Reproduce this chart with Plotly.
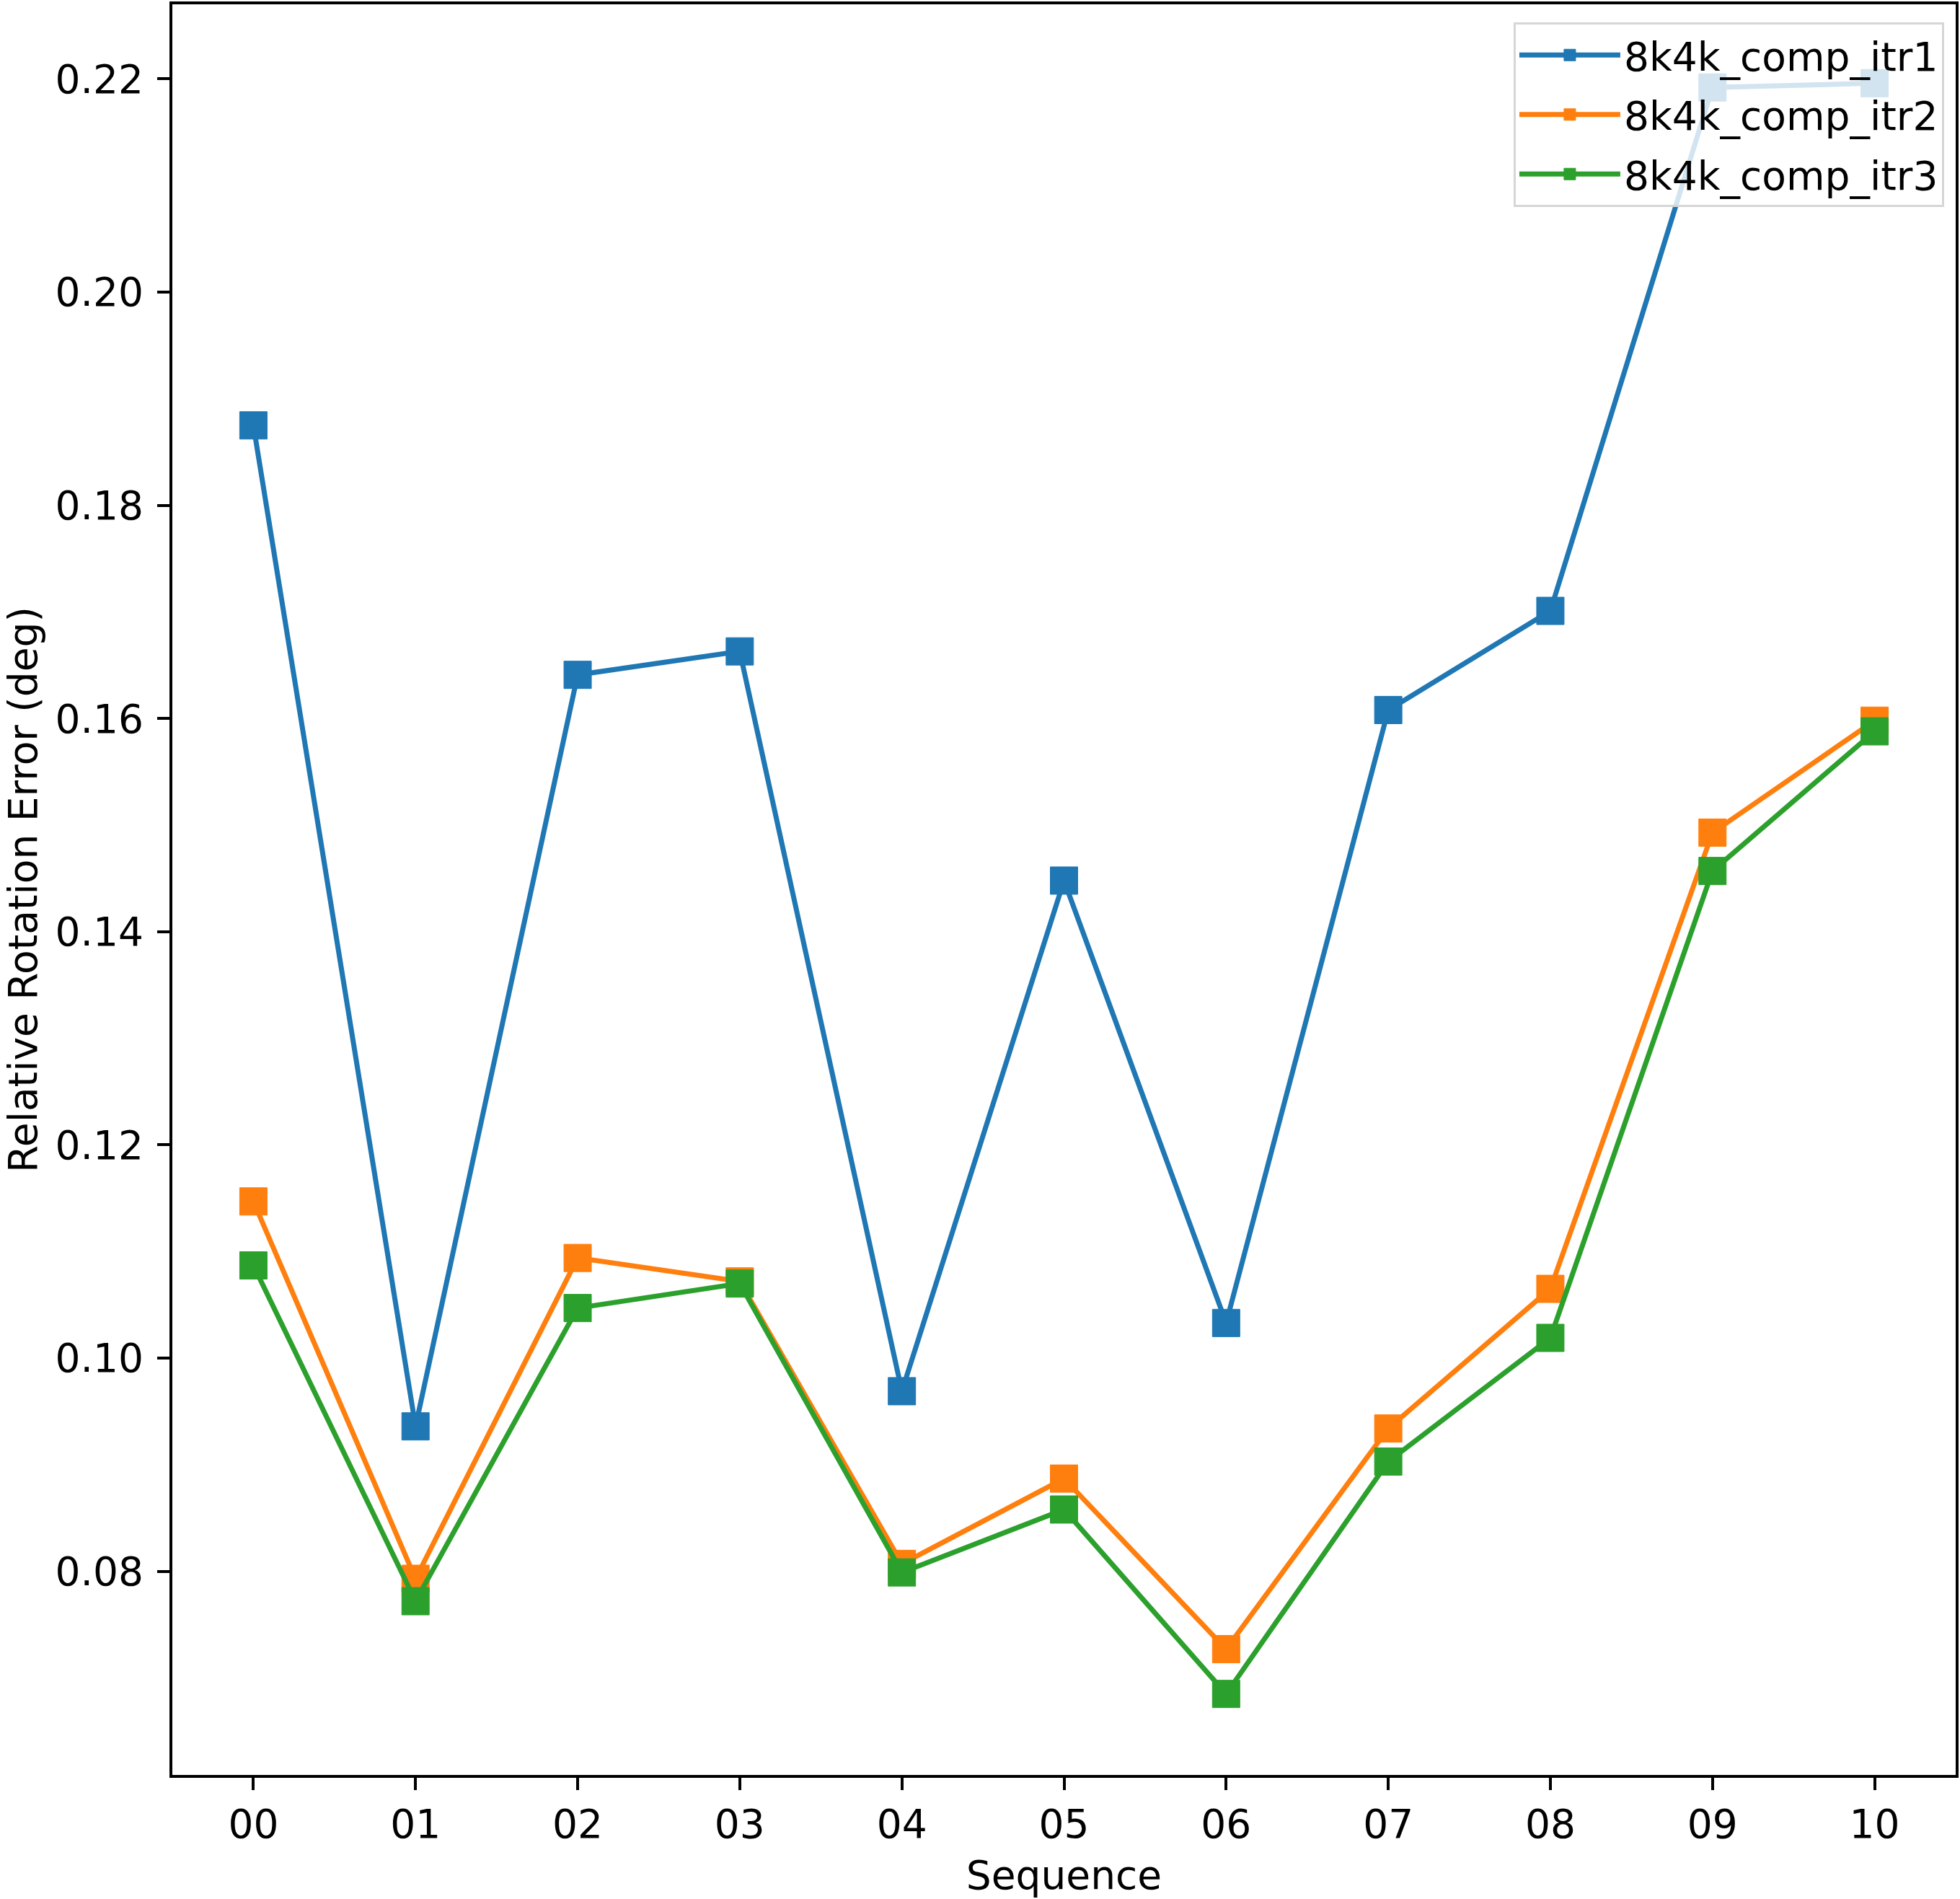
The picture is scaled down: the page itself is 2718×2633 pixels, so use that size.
import plotly.graph_objects as go

# sequences and relative rotation error (deg) for each run
sequences = ['00', '01', '02', '03', '04', '05', '06', '07', '08', '09', '10']
itr1 = [0.1875, 0.0936, 0.1641, 0.1663, 0.0969, 0.1448, 0.1033, 0.1608, 0.1701, 0.2192, 0.2196]
itr2 = [0.1147, 0.0793, 0.1094, 0.1072, 0.0807, 0.0887, 0.0727, 0.0934, 0.1065, 0.1493, 0.1598]
itr3 = [0.1087, 0.0772, 0.1047, 0.1070, 0.0799, 0.0858, 0.0685, 0.0903, 0.1019, 0.1457, 0.1588]
y_ticks = [0.08, 0.10, 0.12, 0.14, 0.16, 0.18, 0.20, 0.22]

names = ['8k4k_comp_itr1', '8k4k_comp_itr2', '8k4k_comp_itr3']
colors = ['#1f77b4', '#ff7f0e', '#2ca02c']

font = 'DejaVu Sans'

fig = go.Figure()
for name, vals, col in zip(names, [itr1, itr2, itr3], colors):
    fig.add_trace(go.Scatter(x=sequences, y=vals, name=name, mode='lines+markers',
                             legendgroup=name,
                             line=dict(color=col, width=7),
                             marker=dict(symbol='square', size=38, color=col,
                                         line=dict(color=col, width=1))))

axis_common = dict(showline=True, mirror=True, linecolor='black', linewidth=4,
                   ticks='outside', ticklen=17, tickwidth=4, tickcolor='black',
                   showgrid=False, zeroline=False,
                   tickfont=dict(family=font, size=55, color='black'))

fig.update_layout(
    width=2718, height=2633,
    margin=dict(l=239, r=4, t=2, b=172),
    plot_bgcolor='white', paper_bgcolor='white',
    font=dict(family=font, size=55, color='black'),
    xaxis=dict(axis_common, range=[-0.5, 10.5],
               title=dict(text='Sequence', font=dict(family=font, size=55), standoff=21)),
    yaxis=dict(axis_common, range=[0.0609, 0.2270], tickvals=y_ticks, tickformat='.2f',
               ticklabelstandoff=8,
               title=dict(text='Relative Rotation Error (deg)', font=dict(family=font, size=55), standoff=12)),
    legend=dict(x=0.9935, y=0.9898, xanchor='right', yanchor='top',
                bgcolor='rgba(255,255,255,0.8)', bordercolor='#d6d6d6', borderwidth=3,
                font=dict(family=font, size=55), itemwidth=140, tracegroupgap=8),
    showlegend=True,
)

fig.write_html("out.html", config={'displayModeBar': False},
               post_script="document.body.style.margin='0';")
